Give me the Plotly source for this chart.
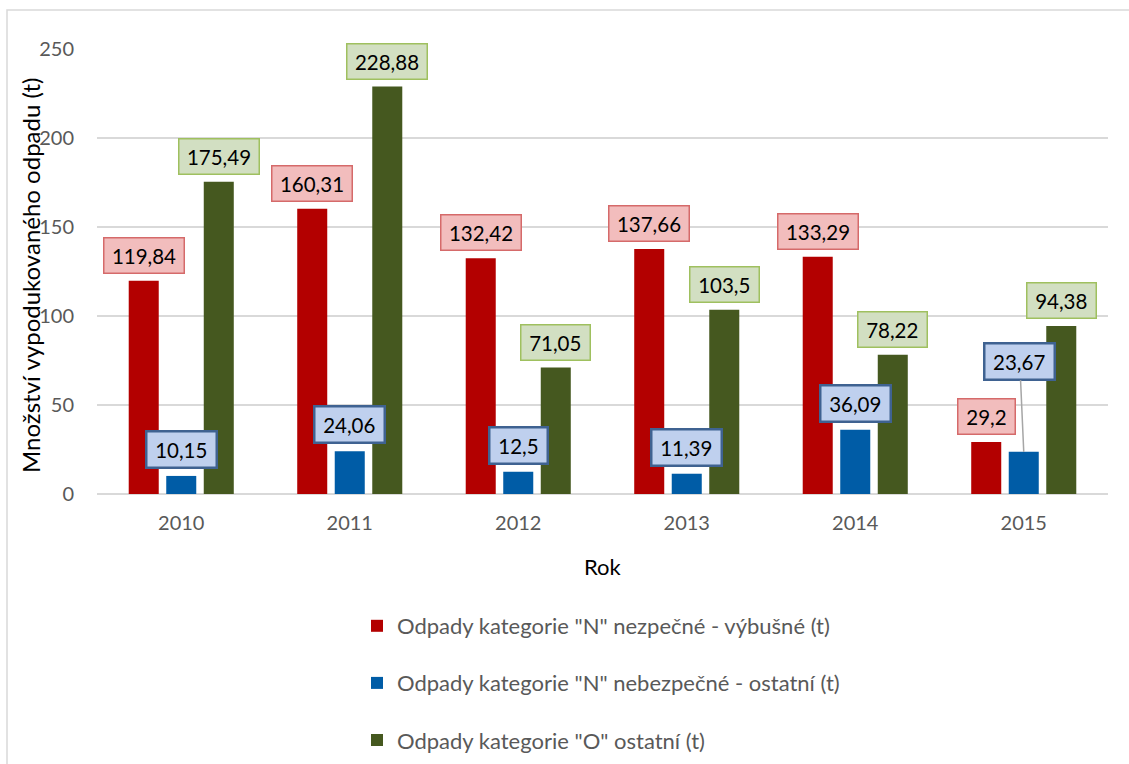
import plotly.graph_objects as go

years = ["2010", "2011", "2012", "2013", "2014", "2015"]
series_names = [
    'Odpady kategorie "N" nezpečné - výbušné (t)',
    'Odpady kategorie "N" nebezpečné - ostatní (t)',
    'Odpady kategorie "O" ostatní (t)',
]
red_vals = [119.84, 160.31, 132.42, 137.66, 133.29, 29.2]
blue_vals = [10.15, 24.06, 12.5, 11.39, 36.09, 23.67]
green_vals = [175.49, 228.88, 71.05, 103.5, 78.22, 94.38]
y_ticks = [0, 50, 100, 150, 200, 250]

bar_colors = ["#b30000", "#005ca6", "#45581f"]
box_fill = ["#f2bdbd", "#bfd0ee", "#d2dfc2"]
box_line = ["#d56a6a", "#3f6291", "#9fc05f"]
box_lw = [1.5, 2.5, 1.5]
shifts = [-37.5, 0, 37.5]
FONT = "Lato"

W, H = 1129, 764
L, R, T, B = 97, 21, 49, 270
PH = H - T - B
PW = W - L - R


def px_x(p):
    return (p - L) / PW


def px_y(p):
    return (H - B - p) / PH


fig = go.Figure()
all_vals = [red_vals, blue_vals, green_vals]
for i, (name, vals) in enumerate(zip(series_names, all_vals)):
    fig.add_trace(go.Bar(
        x=years, y=vals, name=name, legendgroup=f"g{i}",
        marker=dict(color=bar_colors[i], line=dict(width=0)),
    ))

annotations = []
for i, vals in enumerate(all_vals):
    for k, (yr, v) in enumerate(zip(years, vals)):
        txt = f"{v:g}".replace(".", ",")
        a = dict(
            x=k, y=v, xref="x", yref="y", text=txt,
            font=dict(family=FONT, size=20.5, color="#000000"),
            bgcolor=box_fill[i], bordercolor=box_line[i], borderwidth=box_lw[i],
            borderpad=4, width=11.5 * len(txt) + 2, height=26,
            xshift=shifts[i],
        )
        if i == 1 and yr == "2015":
            a.update(showarrow=True, ax=-4, ay=-90, arrowhead=0,
                     arrowwidth=1.5, arrowcolor="#a6a6a6", standoff=0)
        else:
            a.update(showarrow=False, yanchor="bottom", yshift=7)
        annotations.append(a)

annotations.append(dict(
    text="Množství vypodukovaného odpadu (t)", xref="paper", yref="paper",
    x=px_x(30), y=px_y(276), textangle=-90, showarrow=False,
    xanchor="center", yanchor="middle",
    font=dict(family=FONT, size=24, color="#000000"),
))
annotations.append(dict(
    text="Rok", xref="paper", yref="paper", x=0.5, y=px_y(566),
    showarrow=False, xanchor="center", yanchor="middle",
    font=dict(family=FONT, size=22, color="#000000"),
))

fig.update_layout(
    width=W, height=H,
    margin=dict(l=L, r=R, t=T, b=B, autoexpand=False),
    paper_bgcolor="white", plot_bgcolor="white",
    barmode="group", bargap=0.332, bargroupgap=0.2,
    font=dict(family=FONT, color="#595959"),
    showlegend=True,
    legend=dict(
        orientation="v", x=px_x(357), y=px_y(605), xanchor="left", yanchor="top",
        font=dict(family=FONT, size=22, color="#595959"),
        tracegroupgap=25.5, itemwidth=30, bgcolor="rgba(0,0,0,0)",
    ),
    xaxis=dict(
        type="category", range=[-0.5, len(years) - 0.5],
        showgrid=False, showline=False, ticks="", ticklabelstandoff=15,
        tickfont=dict(family=FONT, size=20, color="#595959"),
    ),
    yaxis=dict(
        range=[0, 250], tickvals=y_ticks, showgrid=True, gridcolor="#d9d9d9",
        gridwidth=1.5, zeroline=True, zerolinecolor="#d9d9d9", zerolinewidth=2,
        showline=False, ticks="", ticklabelstandoff=22,
        tickfont=dict(family=FONT, size=20, color="#595959"),
    ),
    annotations=annotations,
    shapes=[dict(
        type="rect", xref="paper", yref="paper", layer="below",
        x0=px_x(7), x1=px_x(1200), y0=px_y(10), y1=px_y(800),
        line=dict(color="#d9d9d9", width=1.5), fillcolor="rgba(0,0,0,0)",
    )],
)

fig.write_html("out.html")
